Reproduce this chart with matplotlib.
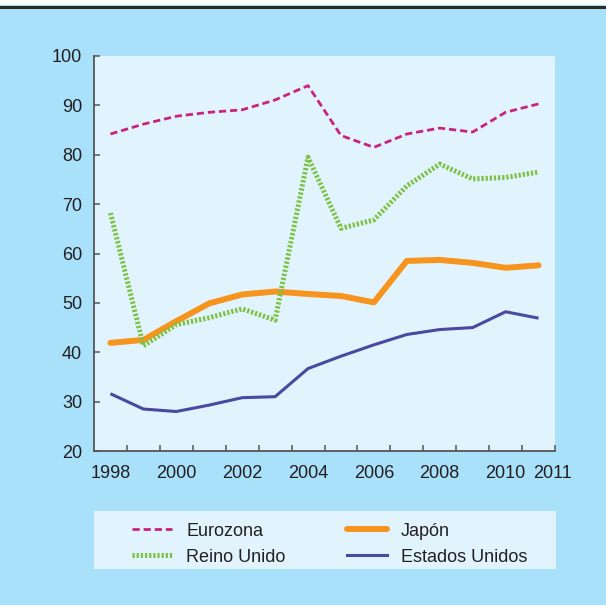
import matplotlib
matplotlib.use("Agg")
import matplotlib.pyplot as plt
from matplotlib.lines import Line2D
import numpy as np

plt.rcParams['font.family'] = ['Liberation Sans', 'DejaVu Sans']

# Series (índice, 1998-2011)
years = list(range(1998, 2012))
eurozona = [84.2, 86.2, 87.8, 88.6, 89.1, 91.1, 94.0, 83.9, 81.5, 84.2, 85.4, 84.6, 88.6, 90.3]
reino_unido = [68.2, 41.3, 45.6, 47.0, 48.8, 46.5, 79.5, 65.1, 66.8, 73.7, 78.1, 75.1, 75.4, 76.5]
japon = [41.9, 42.5, 46.3, 49.9, 51.7, 52.3, 51.8, 51.4, 50.1, 58.5, 58.7, 58.1, 57.1, 57.6]
eeuu = [31.6, 28.5, 28.0, 29.3, 30.8, 31.0, 36.7, 39.2, 41.5, 43.6, 44.6, 45.0, 48.2, 46.9]

year_labels = ['1998', '2000', '2002', '2004', '2006', '2008', '2010', '2011']
y_ticks = list(range(20, 101, 10))

outer_bg = '#a9e1fa'
inner_bg = '#e1f4fd'
axis_col = '#555555'
text_col = '#231f20'

fig = plt.figure(figsize=(6.06, 6.05), dpi=100)
fig.patch.set_facecolor(outer_bg)

# white strip and dark rule at the top
fig.add_artist(plt.Rectangle((0, 1 - 5 / 605), 1, 5 / 605, transform=fig.transFigure,
                             facecolor='white', edgecolor='none'))
fig.add_artist(Line2D([0, 1], [1 - 6.5 / 605] * 2, transform=fig.transFigure,
                      color='#2b2b2b', lw=2.2))

ax = fig.add_axes([94 / 606, 1 - 451 / 605, 461 / 606, 395 / 605])
ax.set_facecolor(inner_bg)

ax.plot(years, eeuu, color='#4a49a0', lw=2.2, solid_capstyle='butt', zorder=3)
ax.plot(years, japon, color='#f7941d', lw=4.3, solid_capstyle='round',
        solid_joinstyle='round', zorder=4)
l_uk, = ax.plot(years, reino_unido, color='#7cc142', lw=3.6, zorder=5)
l_uk.set_dashes([0.45, 0.38])
l_uk.set_dash_capstyle('butt')
l_ez, = ax.plot(years, eurozona, color='#c9237f', lw=2.0, zorder=6)
l_ez.set_dashes([2.6, 1.4])

ax.set_xlim(1997.5, 2011.5)
ax.set_ylim(20, 100)

for s in ['top', 'right']:
    ax.spines[s].set_visible(False)
for s in ['left', 'bottom']:
    ax.spines[s].set_color(axis_col)
    ax.spines[s].set_linewidth(1.3)

ax.set_yticks(y_ticks)
ax.tick_params(axis='y', direction='in', length=4.5, width=1.1, color=axis_col,
               labelsize=13, labelcolor=text_col, pad=8.5)

# tick marks at the year boundaries, labels centred on the years
ax.set_xticks(np.arange(1998.5, 2011.6, 1.0))
ax.set_xticklabels([])
ax.tick_params(axis='x', which='major', direction='in', length=4, width=1.1, color=axis_col)
label_pos = [1998, 2000, 2002, 2004, 2006, 2008, 2010, 2011.42]
ax.set_xticks(label_pos, minor=True)
ax.set_xticklabels(year_labels, minor=True)
ax.tick_params(axis='x', which='minor', length=0, labelsize=13, labelcolor=text_col, pad=10)

# legend panel
lax = fig.add_axes([94 / 606, 1 - 569 / 605, 462 / 606, 58 / 605])
lax.set_facecolor(inner_bg)
lax.set_xticks([])
lax.set_yticks([])
for s in lax.spines.values():
    s.set_visible(False)

h_ez = Line2D([], [], color='#c9237f', lw=2.0, dashes=[2.6, 1.4])
h_uk = Line2D([], [], color='#7cc142', lw=3.6, dashes=[0.45, 0.38], dash_capstyle='butt')
h_jp = Line2D([], [], color='#f7941d', lw=4.3, solid_capstyle='round')
h_us = Line2D([], [], color='#4a49a0', lw=2.2)
leg = lax.legend([h_ez, h_uk, h_jp, h_us],
                 ['Eurozona', 'Reino Unido', 'Japón', 'Estados Unidos'],
                 ncol=2, loc='center', bbox_to_anchor=(0.51, 0.43), frameon=False,
                 fontsize=13, handlelength=2.2, handletextpad=0.78,
                 columnspacing=3.4, labelspacing=0.5, borderpad=0)
for t in leg.get_texts():
    t.set_color(text_col)

fig.savefig('out.png', dpi=100, facecolor=fig.get_facecolor())
